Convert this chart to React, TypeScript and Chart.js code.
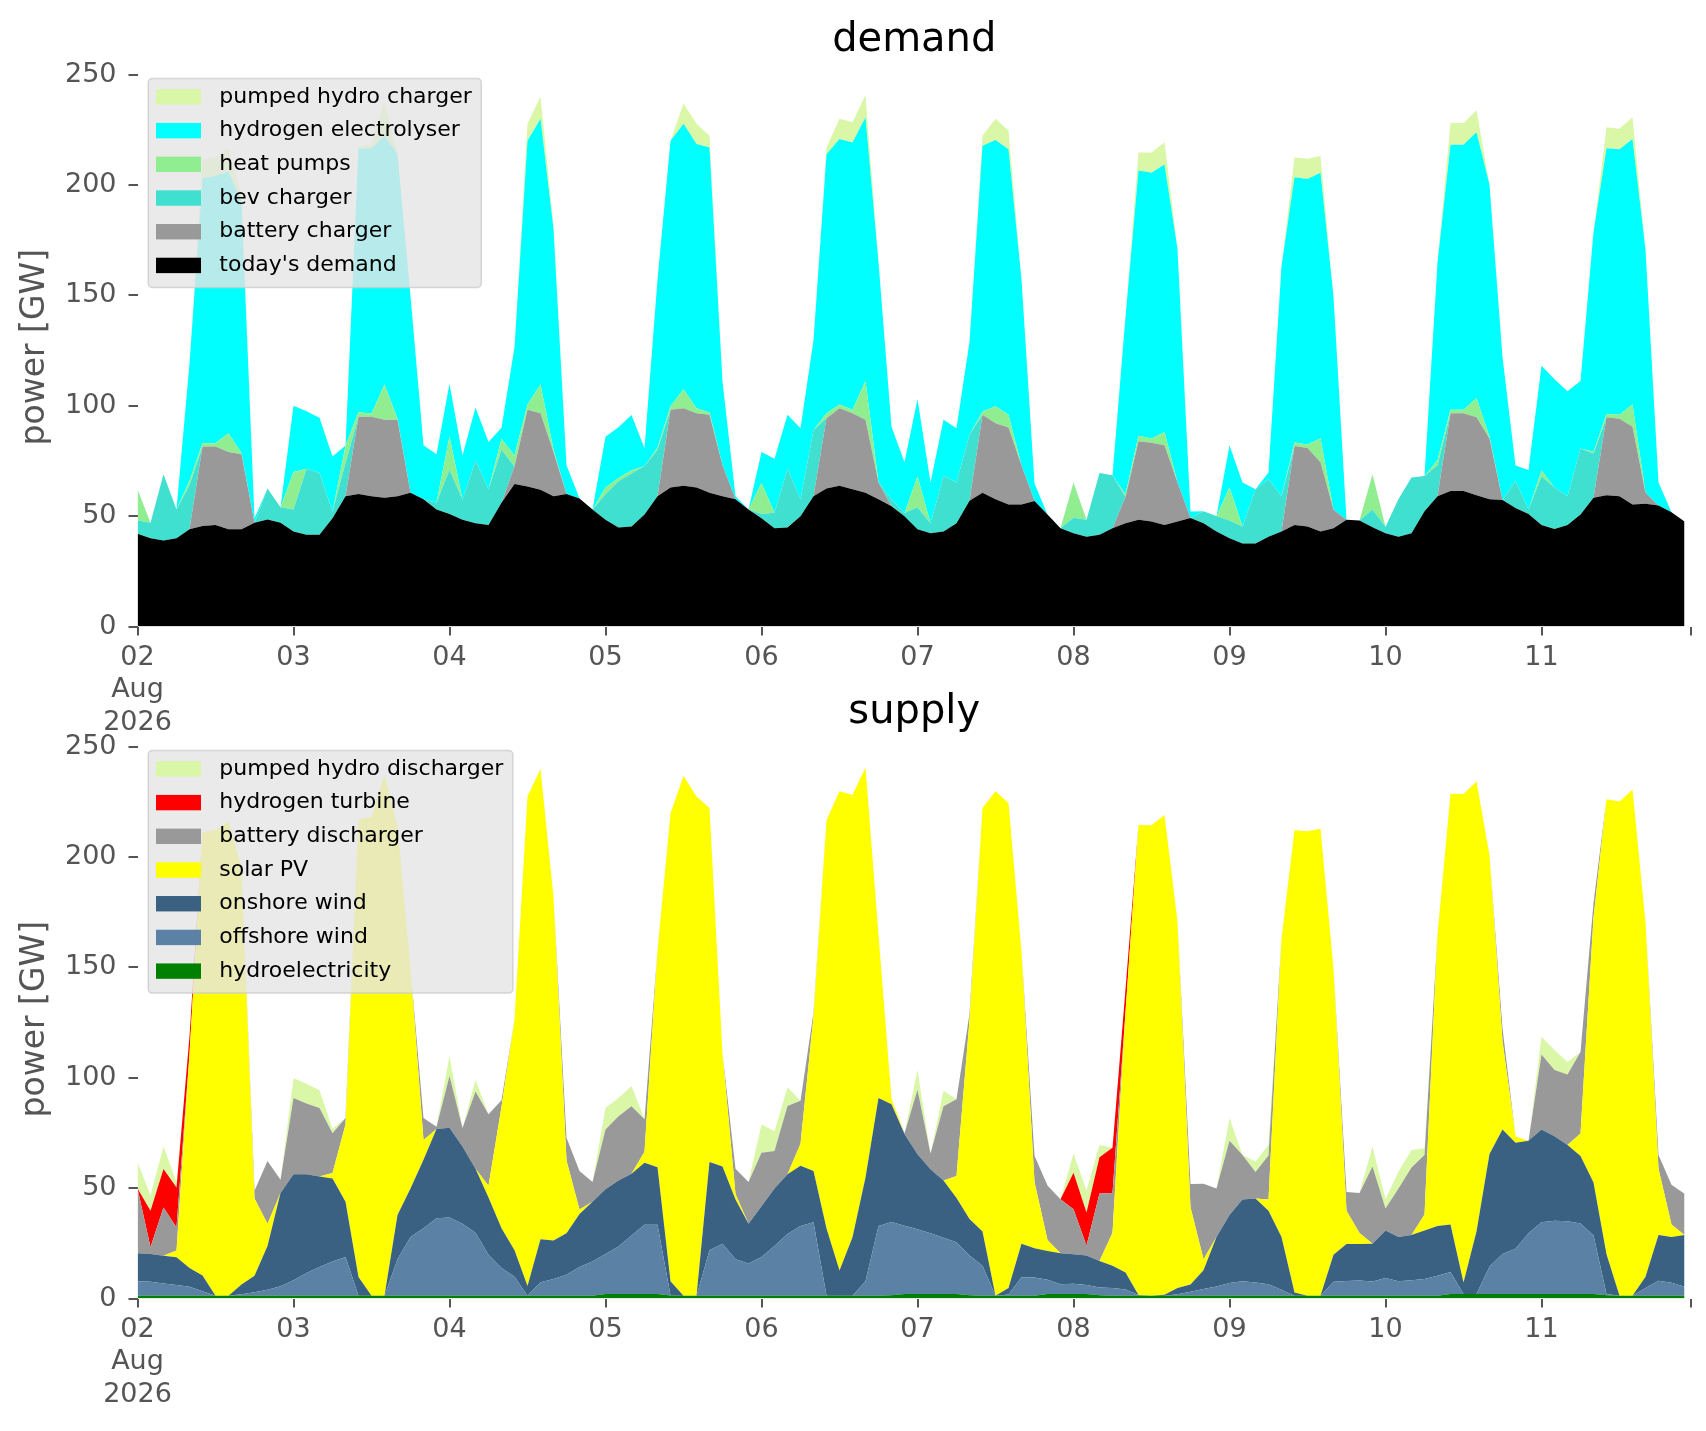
import React, { useEffect, useRef } from 'react';
import { Chart, LineController, LineElement, PointElement, LinearScale, Filler } from 'chart.js';

Chart.register(LineController, LineElement, PointElement, LinearScale, Filler);

// one value every 2 hours, 02 Aug 00:00 .. 11 Aug 22:00 (one row per day)
const STEP_HOURS = 2;

const DAY_TICKS = [0, 24, 48, 72, 96, 120, 144, 168, 192, 216];
const DAY_LABELS: (string | string[])[] = [['02', 'Aug', '2026'], '03', '04', '05', '06', '07', '08', '09', '10', '11'];
const END_TICK = 239;
const Y_TICKS = [0, 50, 100, 150, 200, 250];

// ---- demand [GW] ----
const TODAYS_DEMAND = [
  42, 40, 39, 40, 44, 45.5, 46, 44, 44, 47, 48.5, 47,
  43, 41.5, 41.5, 49, 59, 60, 59, 58.3, 59, 60.6, 57.6, 53,
  51, 48.4, 46.8, 46, 56, 64.5, 63.4, 61.9, 59, 60, 58, 53,
  48.4, 44.8, 45.3, 50.7, 59, 62.9, 63.7, 62.9, 60.6, 59, 57.6, 53,
  49, 44.5, 44.8, 49.9, 59, 62.5, 63.7, 62.2, 60.6, 57.6, 54.5, 49.9,
  44, 42.2, 43, 46.8, 57, 60.6, 57.6, 55.3, 55.3, 56.8, 50.7, 44.5,
  42.2, 40.7, 41.5, 44.5, 46.8, 48.4, 47.6, 46, 47.6, 49.1, 46.8, 43,
  40, 37.6, 37.6, 40.7, 43, 46, 45.3, 43, 44.5, 48.4, 48, 45,
  42.2, 40.7, 42.2, 52.2, 59, 61.4, 61.4, 59.4, 57.6, 57.3, 53.7, 51,
  46, 44.2, 46, 50.7, 58.3, 59.4, 59, 55.3, 55.6, 54.8, 51.7, 47.6,
];
const BATTERY_CHARGER = [
  0, 0, 0, 0, 0, 36, 35.5, 35, 34, 0, 0, 0,
  0, 0, 0, 0, 0, 35, 36, 35.3, 34.6, 0, 0, 0,
  0, 0, 0, 0, 0, 8, 34.8, 34.7, 20, 0, 0, 0,
  0, 0, 0, 0, 0, 35.3, 35.2, 33.7, 35.3, 14, 0, 0,
  0, 0, 0, 0, 0, 31.8, 35.2, 34.4, 33, 7.6, 0, 0,
  0, 0, 0, 0, 0, 35.3, 34.4, 34.8, 17.6, 0, 0, 0,
  0, 0, 0, 0, 12, 35.5, 35.6, 36.1, 17.6, 0, 0, 0,
  0, 0, 0, 0, 0, 35.8, 35.6, 31.4, 8.4, 0, 0, 0,
  0, 0, 0, 0, 0, 35.2, 35.2, 35.4, 27.5, 0, 0, 0,
  0, 0, 0, 0, 0, 35.4, 35.1, 35.2, 5, 0, 0, 0,
];
const BEV_CHARGER = [
  6, 7, 30, 13, 20, 0, 0, 0, 0, 0, 14, 7,
  10, 30, 28, 3, 15, 0, 0, 0, 0, 0, 0, 3,
  20, 9, 28.4, 16, 24, 0, 0, 0, 0, 0, 0, 0,
  11.5, 21, 24, 22, 21, 0, 0, 0, 0, 0, 0, 0,
  2, 7, 26.6, 7.7, 30, 0, 0, 0, 0, 0, 3, 1.5,
  10, 4.6, 25.3, 18.4, 30, 0, 0, 0, 0, 0, 0, 0,
  7, 7.7, 28, 24, 0, 0, 0, 0, 0, 0, 5.4, 7,
  8, 7.7, 24.6, 26, 16, 0, 0, 0, 0, 0, 0, 8,
  3, 17, 25.3, 16, 14, 0, 0, 0, 0, 0, 12.3, 2,
  22, 18.7, 13, 29.9, 20, 0, 0, 0, 0, 0, 0, 0,
];
const HEAT_PUMPS = [
  14, 0, 0, 0, 2, 1.5, 1.5, 8.5, 0.5, 0, 0, 0,
  17, 0, 0, 0, 8, 2, 1.5, 16, 0.5, 0, 0, 0,
  15, 0, 0, 0, 5, 5, 2.3, 13.1, 1, 0, 0, 0,
  3, 1.5, 1.5, 0, 1, 1.5, 8.5, 2.3, 1, 0, 0, 0,
  14, 0, 0, 0, 0, 2.3, 1.6, 1.6, 17.6, 0, 0, 0,
  14, 0, 0, 0, 0, 1.5, 7.7, 5.8, 0, 0, 0, 0,
  16, 0, 0, 0, 1, 2.5, 2, 6, 0, 0, 0, 0,
  15, 0, 0, 0, 0, 1.5, 1.5, 10.7, 0, 0, 0, 16,
  0, 0, 0, 0, 2.3, 1.6, 1.6, 8.7, 0.8, 0, 0, 0,
  2.6, 0, 0, 0, 0.8, 1.5, 1.8, 10, 0, 0, 0, 0,
];
const ELECTROLYSER = [
  0, 0, 0, 0, 53, 120, 121, 118.5, 114, 2, 0, 0,
  30, 26, 25, 25, 0, 119.5, 120, 112.6, 119.8, 89, 24.5, 22,
  24, 20, 24, 21.6, 5, 49, 119.5, 120.3, 100, 13, 0, 0,
  23, 23, 25, 8, 76, 120.3, 120.3, 119.6, 120.1, 38, 1.4, 0,
  14, 24.5, 24.5, 32.2, 40.6, 117.3, 120.3, 121, 119.5, 99.8, 33, 23,
  35, 18.4, 25.3, 24.6, 42, 120.3, 120.6, 120.3, 84.3, 8, 0, 0,
  0, 0, 0, 0, 80.5, 120.1, 120.3, 121.2, 105.8, 3, 0, 0,
  19, 19.9, 0, 3, 104.3, 120.2, 120.3, 120.4, 96.6, 0, 0, 0,
  0, 0, 0, 0, 89.6, 120, 120, 120.3, 114.2, 64.6, 6.9, 17.9,
  47.5, 49.1, 47.6, 30.6, 99.5, 120.3, 120.3, 120.3, 110, 10.4, 0, 0,
];
const PUMPED_CHARGER = [
  0, 0, 0, 0, 0, 8.5, 8.5, 10.5, 3, 0, 0, 0,
  0, 0, 0, 0, 0, 0.7, 2, 15.3, 0, 0, 0, 0,
  0, 0, 0, 0, 0, 0, 7.7, 10, 2, 0, 0, 0,
  0, 0, 0, 0, 0, 0, 9.2, 9.2, 5.3, 0, 0, 0,
  0, 0, 0, 0, 0, 3, 9.2, 9.2, 10, 0, 0, 0,
  0, 0, 0, 0, 0, 4.6, 9.7, 8.4, 0, 0, 0, 0,
  0, 0, 0, 0, 0, 8.2, 9.2, 10, 0, 0, 0, 0,
  0, 0, 0, 0, 0, 8.9, 9.2, 7.6, 0, 0, 0, 0,
  0, 0, 0, 0, 0, 9.9, 9.9, 10, 0, 0, 0, 0,
  0, 0, 0, 0, 0, 9.5, 9.2, 9.9, 0, 0, 0, 0,
];

// ---- supply [GW] ----
const HYDRO = [
  1.3, 1.3, 1.3, 1.3, 1.3, 1.3, 1.3, 1.3, 1.3, 1.3, 1.3, 1.3,
  1.3, 1.3, 1.3, 1.3, 1.3, 1.3, 1.3, 1.3, 1.3, 1.3, 1.3, 1.3,
  1.3, 1.3, 1.3, 1.3, 1.3, 1.3, 1.3, 1.3, 1.3, 1.3, 1.3, 1.3,
  2, 2, 2, 2, 2, 1.4, 1.3, 1.3, 1.3, 1.3, 1.3, 1.3,
  1.3, 1.3, 1.3, 1.3, 1.3, 1.3, 1.3, 1.3, 1.3, 1.3, 1.5, 2,
  2, 2, 2, 2, 1.5, 1.3, 1.3, 1.3, 1.3, 1.3, 2, 2,
  2, 2, 1.5, 1.3, 1.3, 1.3, 1.3, 1.3, 1.3, 1.3, 1.3, 1.3,
  1.3, 1.3, 1.3, 1.3, 1.3, 1.3, 1.3, 1.3, 1.3, 1.3, 1.3, 1.3,
  1.3, 1.3, 1.3, 1.3, 1.3, 2, 2, 2, 2, 2, 2, 2,
  2, 2, 2, 2, 2, 1.5, 1.3, 1.3, 1.3, 1.3, 1.3, 1.3,
];
const OFFSHORE_WIND = [
  6.5, 6.3, 5.5, 4.8, 4, 2, 0, 0, 0.6, 1.5, 2.7, 4.3,
  7, 10.3, 13, 15.5, 17.5, 0, 0, 0, 16.5, 26.5, 30.5, 35,
  35.4, 32.5, 28.5, 18.5, 12.5, 8.5, 0, 6.1, 7.5, 9.5, 13, 15.5,
  18.1, 21.5, 26.5, 31.4, 31.4, 0, 0, 0, 20.5, 23.5, 16.5, 14.5,
  17.5, 22.5, 27.9, 31.5, 33.2, 0, 0, 0, 6.5, 31.5, 33.2, 31,
  29.4, 27.5, 25.5, 23.5, 18, 13.5, 0, 0.5, 8.3, 8.2, 6.5, 4.5,
  4.7, 4.1, 3.5, 3.5, 2.8, 0.3, 0, 0, 0.6, 1.8, 3, 4.1,
  5.7, 6.5, 6, 5.1, 2.7, 0, 0, 0, 6.3, 6.6, 6.8, 6.4,
  8, 6.5, 7, 7.5, 9, 10, 0, 0, 12.5, 18.1, 20.5, 27.5,
  32.5, 33.2, 33, 32, 26.5, 0.5, 0, 0, 3.5, 6.7, 5.8, 4,
];
const ONSHORE_WIND = [
  12.7, 12.6, 12.6, 12.6, 8.5, 7.1, 0, 0, 4.4, 7.5, 19.8, 42.2,
  48, 44.7, 41, 37.5, 25, 8.4, 0, 0, 20, 22, 31, 40.5,
  40.6, 35, 29, 26, 18, 12, 4.4, 19.4, 17.5, 18.7, 24, 27,
  29.4, 30, 28, 28.1, 26.1, 6.4, 0, 0, 40, 35, 27, 18,
  23, 26, 27.1, 27.3, 23.3, 30.4, 11.4, 26.4, 47, 58, 53.3, 41.5,
  33.9, 29, 26, 20, 16.5, 15.5, 0, 3, 15.2, 13.3, 13, 14,
  13.3, 13.4, 12, 10, 7.7, 0, 0, 0.4, 2.9, 3.2, 8.5, 22.4,
  30.8, 37, 38, 33.4, 23.8, 1.4, 0, 0, 12.2, 16.8, 16.6, 17.1,
  21.5, 20, 20.5, 22, 22.5, 21.5, 5.2, 28.4, 51, 56.4, 48, 42,
  42, 38.3, 34.5, 30.5, 24, 18, 0, 0, 5, 20.8, 20.7, 23.5,
];
const SOLAR_PV = [
  0, 0, 0, 3, 97, 200.9, 210.9, 214.9, 189, 35, 10, 0,
  0, 0, 0, 2.5, 35, 207.2, 216.9, 235.9, 175.9, 99.6, 9, 0,
  0, 0, 0, 5.3, 55, 104.5, 221.7, 213, 155.5, 33, 2, 0,
  0, 0, 0, 5, 98, 212, 235.3, 226.1, 160.3, 51, 2.5, 0,
  0, 0, 0, 10, 70, 184.9, 217, 200.4, 185.7, 74, 2.5, 0,
  0, 0, 0, 10, 90, 191.8, 228.4, 219.6, 132.2, 30, 5, 0,
  0, 0, 0, 15, 118, 212.9, 213.1, 217.3, 166, 35, 5, 0,
  0, 0, 0, 5, 135.3, 209.4, 210.3, 211.5, 129.5, 15, 5, 0,
  0, 0, 0, 7.2, 131.9, 195.1, 221.3, 203.8, 135.1, 40, 2.9, 0,
  0, 0, 0, 10.2, 120, 206.1, 223.8, 229.1, 160.6, 30, 5.7, 0,
];
const BATTERY_DISCHARGER = [
  29.3, 3, 21.8, 10.5, 0, 0, 0, 0, 0, 3.5, 28.5, 6,
  34.5, 32, 31, 18, 3, 0, 0, 0, 0, 0, 10, 1,
  23.5, 8.4, 35, 32.3, 3, 0, 0, 0, 0, 10.3, 17.5, 9,
  27, 29, 30.6, 14.7, 0, 0, 0, 0, 0, 0, 11.5, 19,
  24.2, 17, 30.9, 19.5, 1.6, 0, 0, 0, 0, 0, 0, 0.4,
  29.2, 7.2, 33.6, 34.8, 3, 0, 0, 0, 0, 11.8, 24.7, 24.5,
  20.4, 4.4, 30.5, 18, 0, 0, 0, 0, 0, 10.6, 34.2, 22,
  33.6, 20.2, 12, 20, 0, 0, 0, 0, 0, 8.5, 18.1, 35,
  10, 22, 30.5, 27, 0, 0, 0, 0, 0, 5.9, 0, 0,
  34, 30, 32, 37, 6.6, 0, 0, 0, 0, 6.2, 18, 18.6,
];
const HYDROGEN_TURBINE = [
  0, 16.6, 17.4, 18.1, 8, 0, 0, 0, 0, 0, 0, 0,
  0, 0, 0, 0, 0, 0, 0, 0, 0, 0, 0, 0,
  0, 0, 0, 0, 0, 0, 0, 0, 0, 0, 0, 0,
  0, 0, 0, 0, 0, 0, 0, 0, 0, 0, 0, 0,
  0, 0, 0, 0, 0, 0, 0, 0, 0, 0, 0, 0,
  0, 0, 0, 0, 0, 0, 0, 0, 0, 0, 0, 0,
  16.6, 15.1, 16.5, 20.5, 10.3, 0, 0, 0, 0, 0, 0, 0,
  0, 0, 0, 0, 0, 0, 0, 0, 0, 0, 0, 0,
  0, 0, 0, 0, 0, 0, 0, 0, 0, 0, 0, 0,
  0, 0, 0, 0, 0, 0, 0, 0, 0, 0, 0, 0,
];
const PUMPED_DISCHARGER = [
  12, 7, 10.2, 2.5, 0, 0, 0, 0, 0, 0, 0, 0,
  9, 9, 8, 2, 0, 0, 0, 0, 0, 0, 0, 0,
  9, 0, 5.2, 0, 0, 0, 0, 0, 0, 0, 0, 0,
  9.9, 8.3, 9.2, 0, 0, 0, 0, 0, 0, 0, 0, 0,
  12.8, 9, 8.5, 0, 0, 0, 0, 0, 0, 0, 0, 0,
  9, 0, 7, 0, 0, 0, 0, 0, 0, 0, 0, 0,
  8.7, 9.9, 5.5, 0, 0, 0, 0, 0, 0, 0, 0, 0,
  10.4, 0, 4.7, 4.7, 0, 0, 0, 0, 0, 0, 0, 9,
  4.2, 7.7, 8, 3, 0, 0, 0, 0, 0, 0, 0, 0,
  8.1, 9, 5.6, 0, 0, 0, 0, 0, 0, 0, 0, 0,
];

// stacking order: bottom first
const DEMAND_SERIES = [
  { label: "today's demand", color: '#000000', values: TODAYS_DEMAND },
  { label: 'battery charger', color: '#999999', values: BATTERY_CHARGER },
  { label: 'bev charger', color: '#40e0d0', values: BEV_CHARGER },
  { label: 'heat pumps', color: '#90ee90', values: HEAT_PUMPS },
  { label: 'hydrogen electrolyser', color: '#00ffff', values: ELECTROLYSER },
  { label: 'pumped hydro charger', color: '#d9f7a6', values: PUMPED_CHARGER },
];
const SUPPLY_SERIES = [
  { label: 'hydroelectricity', color: '#008000', values: HYDRO },
  { label: 'offshore wind', color: '#5b82a4', values: OFFSHORE_WIND },
  { label: 'onshore wind', color: '#3b6182', values: ONSHORE_WIND },
  { label: 'solar PV', color: '#ffff00', values: SOLAR_PV },
  { label: 'battery discharger', color: '#999999', values: BATTERY_DISCHARGER },
  { label: 'hydrogen turbine', color: '#ff0000', values: HYDROGEN_TURBINE },
  { label: 'pumped hydro discharger', color: '#d9f7a6', values: PUMPED_DISCHARGER },
];

const FONT = '"DejaVu Sans", sans-serif';
const W = 1706;
const H = 759;

// draws the axes title and the boxed legend inside the plot
const overlayPlugin = {
  id: 'overlay',
  afterDraw(chart: any, _args: any, opts: any) {
    const { ctx, chartArea } = chart;
    ctx.save();
    ctx.fillStyle = '#000';
    ctx.font = `40px ${FONT}`;
    ctx.textAlign = 'center';
    ctx.textBaseline = 'alphabetic';
    ctx.fillText(opts.title, (chartArea.left + chartArea.right) / 2, 51);

    const items = [...opts.series].reverse();
    const top = chart.scales.y.getPixelForValue(250) + 4;
    const left = 148.3;
    const rowH = 33.7;
    ctx.font = `22px ${FONT}`;
    const textW = Math.max(...items.map((s: any) => ctx.measureText(s.label).width));
    const boxW = 71 + textW + 9.5;
    const boxH = 18.4 + (items.length - 1) * rowH + 22;
    ctx.beginPath();
    ctx.roundRect(left, top, boxW, boxH, 4);
    ctx.fillStyle = 'rgba(229,229,229,0.8)';
    ctx.fill();
    ctx.strokeStyle = 'rgba(204,204,204,0.8)';
    ctx.lineWidth = 1.5;
    ctx.stroke();
    ctx.textAlign = 'left';
    ctx.textBaseline = 'middle';
    items.forEach((s: any, i: number) => {
      const cy = top + 18.4 + i * rowH;
      ctx.fillStyle = s.color;
      ctx.fillRect(156, cy - 7.7, 45, 15.4);
      ctx.fillStyle = '#000';
      ctx.fillText(s.label, 219.3, cy);
    });
    ctx.restore();
  },
};

function StackChart({ series, title }: { series: typeof DEMAND_SERIES; title: string }) {
  const canvasRef = useRef<HTMLCanvasElement>(null);
  const chartRef = useRef<Chart | null>(null);

  useEffect(() => {
    if (!canvasRef.current) return;
    const ctx = canvasRef.current.getContext('2d');
    if (!ctx) return;
    if (chartRef.current) chartRef.current.destroy();

    const tickStyle = { color: '#555555', font: { family: FONT, size: 27 } };
    const gridStyle = { display: true, drawOnChartArea: false, drawTicks: true, tickLength: 9, color: '#555555', lineWidth: 2 };

    chartRef.current = new Chart(ctx, {
      type: 'line',
      data: {
        datasets: series.map((s, i) => ({
          label: s.label,
          data: s.values.map((v, j) => ({ x: j * STEP_HOURS, y: v })),
          backgroundColor: s.color,
          borderColor: s.color,
          borderWidth: 0,
          pointRadius: 0,
          tension: 0,
          fill: i === 0 ? 'origin' : '-1',
        })),
      },
      options: {
        animation: false,
        responsive: false,
        events: [],
        layout: { padding: { left: 0, right: 15, top: 67.9, bottom: 22.5 } },
        scales: {
          x: {
            type: 'linear',
            min: 0,
            max: END_TICK,
            grid: gridStyle,
            border: { display: false },
            afterBuildTicks: (axis: any) => {
              axis.ticks = [...DAY_TICKS, END_TICK].map((value) => ({ value }));
            },
            afterFit: (axis: any) => { axis.height = 110; },
            ticks: {
              ...tickStyle,
              padding: 6,
              autoSkip: false,
              maxRotation: 0,
              callback: (value: any) => {
                const i = DAY_TICKS.indexOf(Number(value));
                return i >= 0 ? DAY_LABELS[i] : '';
              },
            },
          },
          y: {
            type: 'linear',
            stacked: true,
            min: 0,
            max: 253,
            grid: gridStyle,
            border: { display: false },
            afterBuildTicks: (axis: any) => {
              axis.ticks = Y_TICKS.map((value) => ({ value }));
            },
            afterFit: (axis: any) => { axis.width = 137.5; },
            ticks: { ...tickStyle, padding: 12 },
            title: {
              display: true,
              text: 'power [GW]',
              color: '#555555',
              font: { family: FONT, size: 33 },
              padding: { top: 16, bottom: 0 },
            },
          },
        },
        plugins: {
          overlay: { title, series },
        } as any,
      },
      plugins: [overlayPlugin],
    });

    return () => { if (chartRef.current) chartRef.current.destroy(); };
  }, [series, title]);

  return <canvas ref={canvasRef} width={W} height={H} style={{ width: W, height: H, display: 'block' }} />;
}

export default function App() {
  return (
    <div style={{ position: 'absolute', left: 0, top: 0, width: W, height: 1431, background: '#ffffff' }}>
      <div style={{ position: 'absolute', left: 0, top: 0 }}>
        <StackChart series={DEMAND_SERIES} title="demand" />
      </div>
      <div style={{ position: 'absolute', left: 0, top: 672 }}>
        <StackChart series={SUPPLY_SERIES} title="supply" />
      </div>
    </div>
  );
}
